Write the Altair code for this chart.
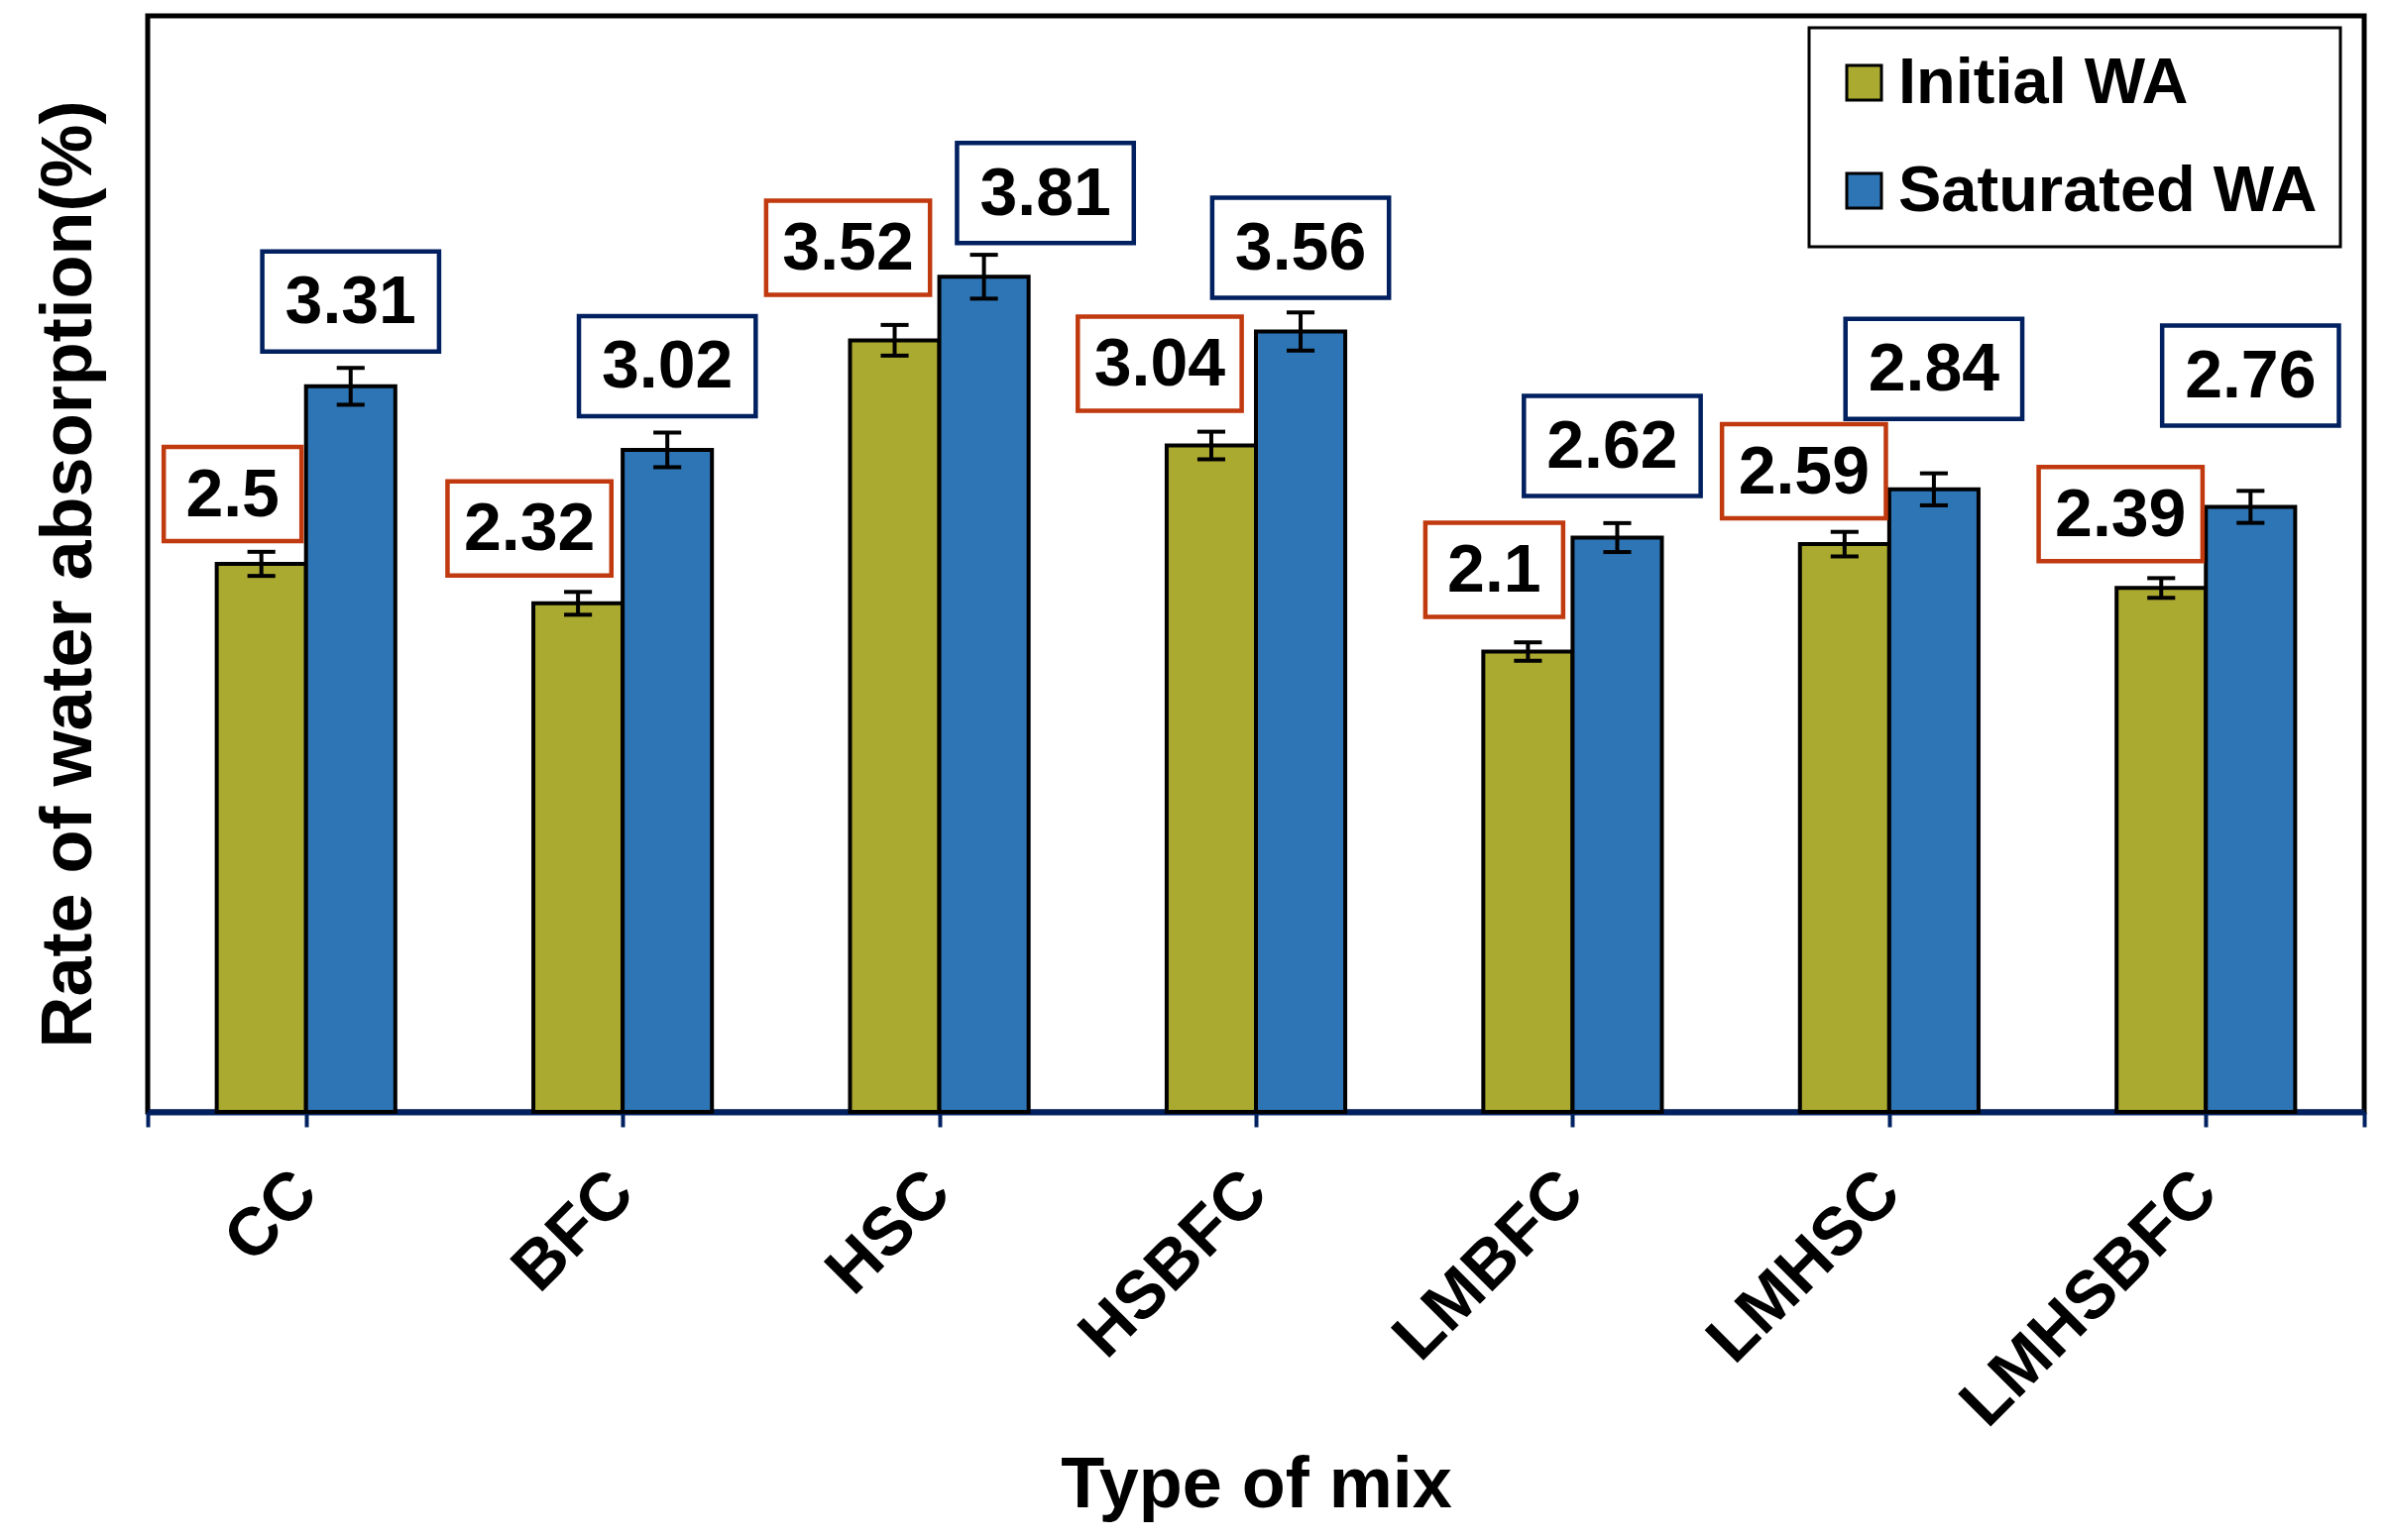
import altair as alt
import pandas as pd

# ---------------- data ----------------
mixes = ["CC", "BFC", "HSC", "HSBFC", "LMBFC", "LMHSC", "LMHSBFC"]
initial_wa = [2.5, 2.32, 3.52, 3.04, 2.1, 2.59, 2.39]
saturated_wa = [3.31, 3.02, 3.81, 3.56, 2.62, 2.84, 2.76]
initial_err = [0.055, 0.052, 0.07, 0.063, 0.042, 0.056, 0.045]
saturated_err = [0.084, 0.079, 0.10, 0.087, 0.066, 0.073, 0.073]
series_names = ["Initial WA", "Saturated WA"]

# ---------------- styles ----------------
fill_colors = ["#ABAA30", "#2E75B6"]
box_colors = ["#C0390F", "#002060"]
FONT = "Liberation Sans, Arial, Helvetica, sans-serif"
W, H = 2236, 1106
PX_X = W / 7.0          # px per x unit
PX_Y = H / 5.0          # px per y unit
BAR_W = 0.282
LBL_FS = 68
CAP = 0.044
# manual placement nudges of the value-label boxes (pixels), as in the original figure
init_box_dx = [-29, -49, -47, -52, -34, -41, -41]
init_box_gap = [23, 28, 46, 35, 35, 26, 27]
sat_box_dx = [0, 0, 62, 0, -5, 0, 0]
sat_box_gap = [35, 34, 34, 34, 42, 71, 82]
box_h_px = [95, 101]

rows = []
for s, (vals, errs) in enumerate([(initial_wa, initial_err), (saturated_wa, saturated_err)]):
    dxs = init_box_dx if s == 0 else sat_box_dx
    gaps = init_box_gap if s == 0 else sat_box_gap
    for i, (m, v, e) in enumerate(zip(mixes, vals, errs)):
        x0 = i - BAR_W if s == 0 else i
        x1 = i if s == 0 else i + BAR_W
        xc = (x0 + x1) / 2
        label = f"{v:g}"
        nd = sum(ch.isdigit() for ch in label)
        tw = (0.556 * nd + 0.278) * LBL_FS
        bw = max(tw + 33, 139) if s == 0 else tw + 46
        half = bw / 2 / PX_X
        bxc = xc + dxs[i] / PX_X
        by0 = v + gaps[i] / PX_Y
        by1 = by0 + box_h_px[s] / PX_Y
        rows.append(dict(
            mix=m, idx=i, series=series_names[s], s=s,
            value=v, err=e,
            x0=x0, x1=x1, xc=xc, lo=v - e, hi=v + e,
            c0=xc - CAP, c1=xc + CAP,
            bx0=bxc - half, bx1=bxc + half, bxc=bxc,
            by0=by0, by1=by1, byc=(by0 + by1) / 2,
            label=label,
        ))
df = pd.DataFrame(rows)

names_js = "[" + ",".join(f"'{m}'" for m in mixes) + "]"
xscale = alt.Scale(domain=[-0.5, 6.5], nice=False, zero=False)
yscale = alt.Scale(domain=[0, 5], nice=False, zero=True)
xaxis = alt.Axis(
    title="Type of mix",
    values=[-0.5, 0, 1, 2, 3, 4, 5, 6, 6.5],
    labelExpr=f"datum.value == floor(datum.value) ? {names_js}[datum.value] : ''",
    labelAngle=315, labelAlign="right", labelBaseline="middle",
    labelFont=FONT, labelFontSize=68, labelFontWeight="bold", labelColor="black",
    labelPadding=56, labelOverlap=False, labelFlush=False, labelBound=False,
    labelLimit=2000,
    domainColor="#002060", domainWidth=6,
    tickColor="#002060", tickWidth=4, tickSize=15,
    grid=False,
    titleFont=FONT, titleFontSize=72, titleFontWeight="bold", titleColor="black",
    titleBaseline="alphabetic", titleY=398, titleX=W / 2, titleAlign="center",
)
yaxis = alt.Axis(
    title="Rate of water absorption(%)",
    labels=False, ticks=False, grid=False, domain=False,
    titleFont=FONT, titleFontSize=72, titleFontWeight="bold", titleColor="black",
    titleBaseline="alphabetic", titleX=-58, titleY=563, titleAlign="center",
)


def X(f):
    return alt.X(f, type="quantitative", scale=xscale, axis=xaxis)


def Y(f):
    return alt.Y(f, type="quantitative", scale=yscale, axis=yaxis)


base = alt.Chart(df)

bars = base.mark_rect(stroke="black", strokeWidth=4).encode(
    x=X("x0"), x2="x1", y=Y("value"), y2=alt.datum(0),
    color=alt.Color(
        "series:N",
        scale=alt.Scale(domain=series_names, range=fill_colors),
        legend=alt.Legend(
            title=None, orient="none", legendX=1676, legendY=12,
            direction="vertical",
            strokeColor="black", fillColor="white",
            padding=23, rowPadding=43,
            symbolType="square", symbolSize=1225,
            symbolStrokeColor="black", symbolStrokeWidth=3,
            labelFont=FONT, labelFontSize=65, labelFontWeight="bold",
            labelColor="black", labelOffset=2, labelLimit=2000,
        ),
    ),
)

err_v = base.mark_rule(color="black", strokeWidth=4).encode(
    x=X("xc"), y=Y("lo"), y2="hi"
)
cap_lo = base.mark_rule(color="black", strokeWidth=4).encode(
    x=X("c0"), x2="c1", y=Y("lo")
)
cap_hi = base.mark_rule(color="black", strokeWidth=4).encode(
    x=X("c0"), x2="c1", y=Y("hi")
)

box_layers = [
    base.transform_filter(alt.datum.s == k)
    .mark_rect(fill="white", stroke=box_colors[k], strokeWidth=4.5)
    .encode(x=X("bx0"), x2="bx1", y=Y("by0"), y2="by1")
    for k in range(2)
]

texts = base.mark_text(
    font=FONT, fontSize=LBL_FS, fontWeight="bold", color="black",
    align="center", baseline="middle", dy=2,
).encode(x=X("bxc"), y=Y("byc"), text="label:N")

chart = alt.layer(bars, err_v, cap_lo, cap_hi, *box_layers, texts).properties(
    width=W, height=H,
    autosize=alt.AutoSizeParams(type="none"),
    padding={"left": 141, "top": 8, "right": 15, "bottom": 424},
    background="white",
).configure_view(stroke="black", strokeWidth=5).configure_legend(strokeWidth=3)

chart.save("out.html", embed_options={"renderer": "svg", "actions": False})
